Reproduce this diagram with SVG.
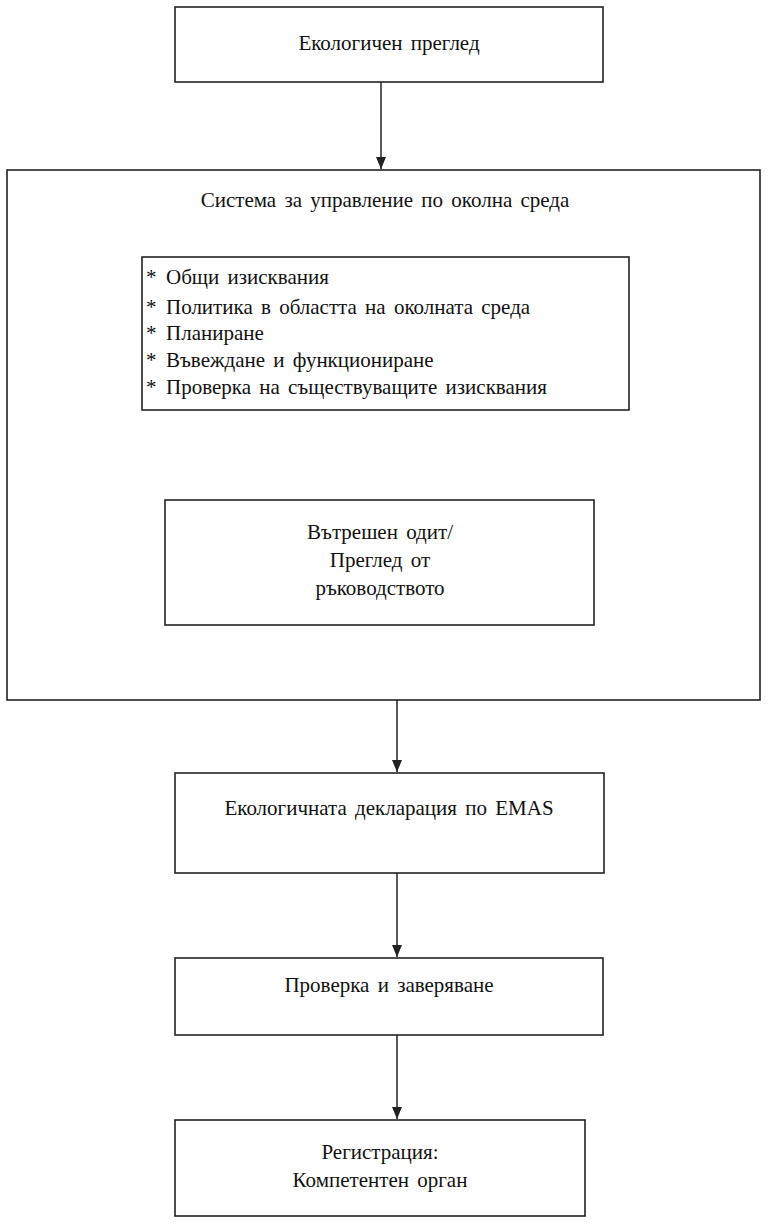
<svg xmlns="http://www.w3.org/2000/svg" width="772" height="1225" viewBox="0 0 772 1225">
<defs>
<marker id="ah" markerWidth="12" markerHeight="10" refX="12" refY="5" orient="auto" markerUnits="userSpaceOnUse" viewBox="0 0 12 10">
<path d="M0,0 L12,5 L0,10 Z" fill="#222"/>
</marker>
</defs>
<style>
.box{fill:#fff;stroke:#222;stroke-width:1.6}
.t{font-family:"Liberation Serif","DejaVu Serif",serif;font-size:21px;fill:#111;word-spacing:3px}
.c{text-anchor:middle}
.conn{stroke:#222;stroke-width:1.5;fill:none}
</style>
<rect width="772" height="1225" fill="#fff"/>
<g id="connectors">
<line class="conn" x1="381" y1="82" x2="381" y2="169" marker-end="url(#ah)"/>
<line class="conn" x1="381" y1="410" x2="381" y2="499" marker-end="url(#ah)"/>
<line class="conn" x1="397" y1="700" x2="397" y2="772" marker-end="url(#ah)"/>
<line class="conn" x1="397" y1="873" x2="397" y2="957" marker-end="url(#ah)"/>
<line class="conn" x1="397" y1="1035" x2="397" y2="1119" marker-end="url(#ah)"/>
</g>
<g id="n1">
<rect class="box" x="175" y="7" width="428" height="75"/>
<text class="t c" x="389" y="50">Екологичен преглед</text>
</g>
<g id="n2">
<rect class="box" x="7" y="170" width="753" height="530"/>
<text class="t c" x="385" y="207">Система за управление по околна среда</text>
</g>
<g id="n3">
<rect class="box" x="142" y="257" width="487" height="153"/>
<text class="t" x="146" y="284">*<tspan x="166">Общи изисквания</tspan></text>
<text class="t" x="146" y="314">*<tspan x="166">Политика в областта на околната среда</tspan></text>
<text class="t" x="146" y="340">*<tspan x="166">Планиране</tspan></text>
<text class="t" x="146" y="367">*<tspan x="166">Въвеждане и функциониране</tspan></text>
<text class="t" x="146" y="394">*<tspan x="166">Проверка на съществуващите изисквания</tspan></text>
</g>
<g id="n4">
<rect class="box" x="165" y="500" width="429" height="125"/>
<text class="t c" x="380" y="539">Вътрешен одит/</text>
<text class="t c" x="380" y="567">Преглед от</text>
<text class="t c" x="380" y="595">ръководството</text>
</g>
<g id="n5">
<rect class="box" x="175" y="773" width="429" height="100"/>
<text class="t c" x="389" y="815">Екологичната декларация по EMAS</text>
</g>
<g id="n6">
<rect class="box" x="175" y="958" width="428" height="77"/>
<text class="t c" x="389" y="992">Проверка и заверяване</text>
</g>
<g id="n7">
<rect class="box" x="175" y="1120" width="410" height="96"/>
<text class="t c" x="380" y="1159">Регистрация:</text>
<text class="t c" x="380" y="1187">Компетентен орган</text>
</g>
</svg>
